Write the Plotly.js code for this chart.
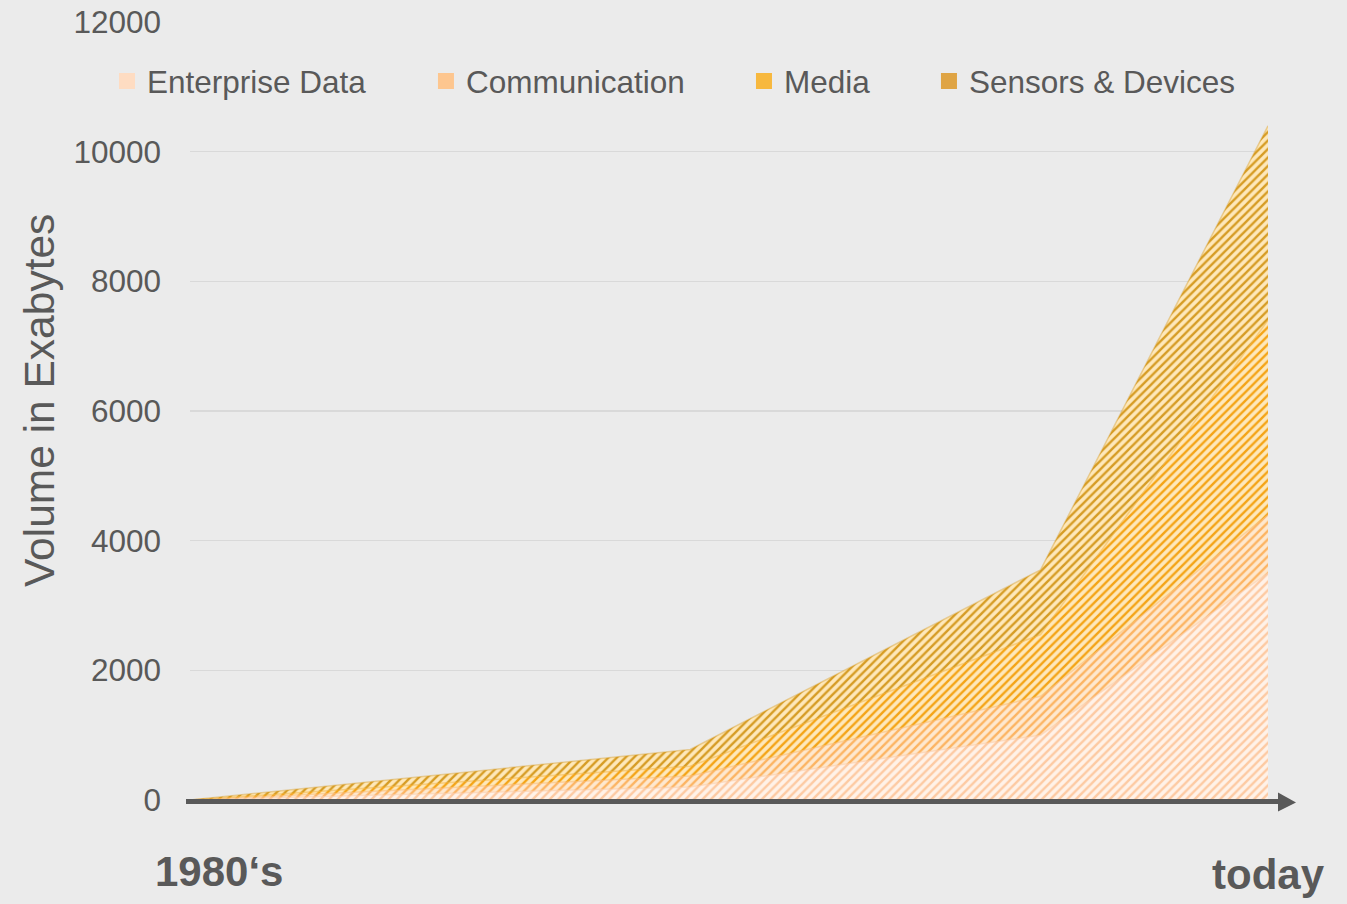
<!DOCTYPE html>
<html>
<head>
<meta charset="utf-8">
<script src="https://cdn.plot.ly/plotly-3.0.1.min.js"></script>
<style>
  html, body { margin: 0; padding: 0; background: #ebebeb; }
  #chart { width: 1347px; height: 904px; }
</style>
</head>
<body>
<div id="chart"></div>
<script>
// ---- data ----
const timelinePos = [0, 46.4, 78.9, 100];          // relative position along the time axis
const seriesNames = ["Enterprise Data", "Communication", "Media", "Sensors & Devices"];
const enterprise    = [0, 200, 1000, 3500];
const communication = [0, 170, 600, 900];
const media         = [0, 150, 950, 3000];
const sensors       = [0, 260, 1000, 3000];
const yTickVals = [0, 2000, 4000, 6000, 8000, 10000, 12000];
const yTickText = ["0", "2000", "4000", "6000", "8000", "10000", "12000"];
const startLabel = "1980‘s";
const endLabel = "today";
const yTitle = "Volume in Exabytes";

// ---- styles ----
const FONT = "Liberation Sans, Arial, sans-serif";
const styles = [
  { bg: "#fff2e8", fg: "#fdcaa2", leg: "#fedcc2", line: "rgba(253,200,160,0.45)" },
  { bg: "#fee8cf", fg: "#fcb462", leg: "#fdc68f", line: "rgba(250,180,100,0.45)" },
  { bg: "#fee8bb", fg: "#f4a416", leg: "#f7b83e", line: "rgba(243,165,25,0.4)" },
  { bg: "#fee8ba", fg: "#d69c24", leg: "#dfa444", line: "rgba(214,156,36,0.4)" }
];
const values = [enterprise, communication, media, sensors];
const legendIds = ["legend", "legend2", "legend3", "legend4"];

const traces = [];
values.forEach((vals, i) => {
  traces.push({
    type: "scatter",
    x: timelinePos,
    y: vals,
    name: seriesNames[i],
    stackgroup: "one",
    mode: "lines",
    line: { width: 1.5, color: styles[i].line },
    fillcolor: styles[i].bg,
    fillpattern: { shape: "/", bgcolor: styles[i].bg, fgcolor: styles[i].fg, size: 6, solidity: 0.4, fillmode: "replace" },
    showlegend: false,
    hoverinfo: "skip"
  });
});
// legend-only entries (square symbols)
values.forEach((vals, i) => {
  traces.push({
    type: "scatter",
    mode: "markers",
    x: [null],
    y: [null],
    name: seriesNames[i],
    legend: legendIds[i],
    marker: { symbol: "square", size: 16, color: styles[i].leg, line: { width: 0 } },
    showlegend: true,
    hoverinfo: "skip"
  });
});

const legendBase = {
  orientation: "h",
  yanchor: "middle",
  xanchor: "left",
  y: 0.924,
  bgcolor: "rgba(0,0,0,0)",
  font: { family: FONT, size: 31.5, color: "#595959" }
};
const legendXs = [-0.077, 0.2189, 0.5139, 0.6855];

const layout = {
  width: 1347,
  height: 904,
  margin: { l: 190, r: 79, t: 22, b: 104, pad: 0 },
  paper_bgcolor: "#ebebeb",
  plot_bgcolor: "#ebebeb",
  font: { family: FONT, color: "#595959" },
  xaxis: {
    range: [0, 100],
    showgrid: false,
    zeroline: false,
    showline: false,
    showticklabels: false,
    ticks: "",
    fixedrange: true
  },
  yaxis: {
    range: [0, 12000],
    tickvals: yTickVals,
    ticktext: yTickText,
    showgrid: true,
    gridcolor: "#d9d9d9",
    gridwidth: 1.5,
    zeroline: false,
    showline: false,
    ticks: "",
    ticklabelstandoff: 28,
    tickfont: { size: 31.5, color: "#595959" },
    fixedrange: true
  },
  showlegend: true,
  shapes: [
    { type: "line", xref: "paper", yref: "paper", x0: -0.0037, x1: 1.02, y0: -0.0019, y1: -0.0019,
      line: { color: "#595959", width: 5 } },
    { type: "path", xref: "paper", yref: "paper",
      path: "M 1.0093,0.0096 L 1.0260,-0.0032 L 1.0093,-0.0148 Z",
      fillcolor: "#595959", line: { width: 0 } }
  ],
  annotations: [
    { xref: "paper", yref: "paper", x: -0.1391, y: 0.513, xanchor: "center", yanchor: "middle",
      text: yTitle, textangle: -90, showarrow: false,
      font: { size: 42.5, color: "#595959", family: FONT } },
    { xref: "paper", yref: "paper", x: 0.0269, y: -0.0925, xanchor: "center", yanchor: "middle",
      text: "<b>" + startLabel + "</b>", showarrow: false,
      font: { size: 42, color: "#595959", family: FONT } },
    { xref: "paper", yref: "paper", x: 1.0009, y: -0.0964, xanchor: "center", yanchor: "middle",
      text: "<b>" + endLabel + "</b>", showarrow: false,
      font: { size: 42, color: "#595959", family: FONT } }
  ]
};
legendIds.forEach((id, i) => {
  layout[id] = Object.assign({}, legendBase, { x: legendXs[i] });
});

Plotly.newPlot("chart", traces, layout, { displayModeBar: false, staticPlot: true });
</script>
</body>
</html>
